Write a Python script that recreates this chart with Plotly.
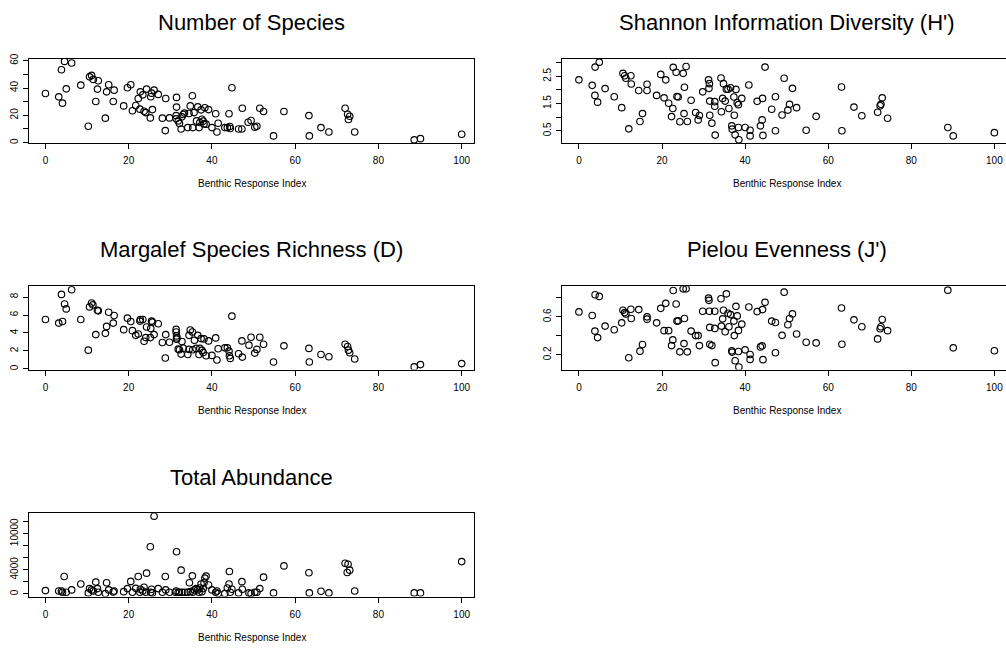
import plotly.graph_objects as go

# ---------------- data ----------------
species_x = [0, 3.2, 3.85, 4.1, 4.6, 5.0, 6.3, 8.5, 10.3, 10.6, 11.1, 11.5, 12.1, 12.5, 12.7, 14.4, 14.7, 15.2,
             16.3, 16.5, 18.8, 19.7, 20.5, 20.9, 21.7, 22.3, 22.7, 22.8, 23.4, 23.7, 24.1, 24.3, 25.2, 25.3, 25.5,
             25.7, 26.1, 27.1, 28.1, 28.8, 28.9, 29.8, 31.4, 31.4, 31.5, 31.5, 31.9, 32.2, 32.6, 32.8, 33.1, 33.4,
             34.2, 34.5, 34.8, 35.3, 35.4, 35.7, 36.3, 36.6, 36.9, 37.1, 37.4, 37.6, 37.9, 38.1, 38.3, 38.6, 39.2,
             40.0, 40.9, 41.2, 41.5, 43.1, 43.7, 44.1, 44.3, 44.4, 44.8, 46.4, 47.2, 47.3, 48.7, 49.4, 50.3, 50.8,
             51.5, 52.4, 54.8, 57.3, 63.3, 63.4, 66.2, 68.1, 72.0, 72.6, 72.8, 73.1, 74.3, 88.6, 90.1, 100]
species_y = [36, 33.5, 53.4, 28.9, 59.5, 39.4, 58.3, 42.1, 12, 48.2, 49.2, 46.3, 30.1, 39.2, 45.3, 17.9, 37.2, 42.4,
             30.1, 38.4, 26.9, 40.2, 42.4, 23.3, 27.2, 32.3, 24.5, 37.2, 35, 23, 22, 39.2, 18.1, 33.6, 36.2,
             24.2, 38.4, 35.3, 17.9, 8.8, 32.3, 18.1, 17.4, 19.8, 26, 33.1, 15.9, 14, 10, 18.9, 20.6, 21.6,
             11, 21.3, 26.9, 34.3, 11, 22, 15.9, 26.2, 11, 14.7, 24, 17.1, 15.7, 13.7, 25.5, 13.5, 24.2,
             11, 21.1, 7.8, 14.2, 11, 11, 21.1, 11.8, 10.3, 40.2, 10, 10, 25.2, 14.9, 16.2, 11.3, 12,
             25.2, 22.8, 4.9, 22.8, 19.8, 4.9, 11, 7.8, 25.2, 20.8, 16.9, 19.3, 7.8, 2, 2.9, 6.1]

shannon_x = [0, 3.2, 3.85, 3.9, 4.5, 4.9, 6.3, 8.5, 10.3, 10.6, 11.0, 11.3, 12.0, 12.5, 12.6, 14.4, 14.7, 15.3,
             16.4, 16.4, 18.7, 19.7, 20.5, 20.9, 21.6, 22.3, 22.6, 22.7, 23.4, 23.6, 23.9, 24.3, 25.1, 25.3, 25.4,
             25.8, 26.1, 27.0, 28.1, 28.7, 29.0, 29.8, 31.2, 31.3, 31.4, 31.5, 31.5, 32.0, 32.7, 32.7, 32.8, 34.2,
             34.3, 34.6, 34.8, 35.2, 35.5, 35.9, 36.1, 36.5, 36.8, 36.9, 37.3, 37.4, 37.6, 37.8, 38.1, 38.4, 38.4,
             38.5, 39.2, 40.0, 40.9, 41.2, 41.2, 42.9, 43.7, 44.1, 44.2, 44.3, 44.8, 46.4, 47.3, 47.3, 48.9, 49.4,
             50.3, 50.7, 51.4, 52.4, 54.7, 57.1, 63.2, 63.3, 66.2, 68.1, 71.9, 72.5, 72.7, 73.0, 74.3, 88.8, 90.1, 100]
shannon_y = [2.37, 2.17, 1.80, 2.84, 1.55, 3.02, 2.05, 1.75, 1.35, 2.61, 2.52, 2.43, 0.57, 2.52, 2.22, 1.98, 0.84, 1.13,
             2.21, 1.98, 1.80, 2.57, 1.71, 2.37, 1.51, 1.02, 1.32, 2.83, 2.65, 1.76, 1.74, 0.83, 2.61, 1.13, 2.10,
             2.86, 0.84, 1.62, 1.17, 0.90, 1.06, 1.93, 2.37, 2.06, 2.23, 1.07, 1.59, 0.78, 1.57, 1.40, 0.34, 2.44,
             1.20, 1.69, 2.23, 1.59, 2.03, 2.03, 1.32, 2.08, 0.68, 0.56, 1.74, 1.07, 0.35, 2.02, 1.53, 1.46, 0.62,
             0.17, 1.69, 0.62, 2.18, 0.52, 0.31, 1.58, 0.68, 0.90, 1.69, 0.33, 2.84, 1.29, 1.75, 0.50, 1.08, 2.43,
             1.26, 1.47, 2.06, 1.35, 0.52, 1.03, 2.11, 0.50, 1.37, 1.05, 1.18, 1.42, 1.47, 1.71, 0.96, 0.62, 0.31, 0.43]

margalef_x = [0, 3.2, 3.85, 4.1, 4.6, 5.0, 6.3, 8.5, 10.3, 10.6, 11.1, 11.4, 12.1, 12.5, 12.7, 14.4, 14.7, 15.2,
              16.3, 16.5, 18.8, 19.7, 20.5, 20.9, 21.7, 22.3, 22.7, 22.8, 23.4, 23.7, 24.1, 24.3, 25.2, 25.3, 25.5,
              25.7, 26.1, 27.1, 28.1, 28.8, 28.9, 29.8, 31.4, 31.4, 31.5, 31.5, 31.6, 31.9, 32.2, 32.6, 32.8, 33.1,
              34.2, 34.5, 34.5, 34.8, 35.3, 35.4, 35.8, 36.2, 36.6, 36.9, 37.1, 37.4, 37.6, 37.9, 38.1, 38.6, 39.2,
              40.0, 40.9, 41.2, 41.5, 43.1, 43.7, 44.1, 44.2, 44.4, 44.8, 46.4, 47.2, 47.3, 48.9, 49.4, 50.3, 50.8,
              51.5, 52.4, 54.8, 57.3, 63.3, 63.4, 66.2, 68.1, 72.0, 72.6, 72.8, 73.1, 74.3, 88.6, 90.1, 100]
margalef_y = [5.50, 5.10, 8.29, 5.28, 7.23, 6.68, 8.81, 5.50, 2.09, 6.90, 7.34, 7.12, 3.82, 6.53, 6.46, 3.96, 4.73, 6.31,
              5.10, 5.94, 4.37, 5.65, 5.28, 4.26, 3.74, 3.89, 5.32, 5.50, 5.50, 3.08, 3.49, 4.66, 3.49, 4.51, 5.32,
              5.21, 3.82, 5.03, 2.94, 1.21, 3.82, 2.97, 4.40, 4.11, 3.67, 3.30, 3.45, 2.20, 2.13, 1.65, 3.05, 2.31,
              1.61, 2.17, 3.74, 4.33, 4.11, 2.13, 3.19, 2.28, 3.74, 1.61, 2.28, 3.38, 2.06, 1.83, 3.34, 1.47, 3.12,
              1.50, 3.45, 0.99, 2.24, 2.35, 2.35, 1.98, 1.47, 1.17, 5.87, 1.69, 3.12, 1.32, 2.64, 3.52, 1.76, 2.17,
              3.52, 2.75, 0.77, 2.57, 2.28, 0.77, 1.61, 1.36, 2.75, 2.50, 2.09, 1.80, 1.10, 0.22, 0.48, 0.59]

pielou_x = shannon_x
pielou_y = [0.652, 0.614, 0.450, 0.833, 0.381, 0.816, 0.503, 0.464, 0.537, 0.670, 0.645, 0.631, 0.169, 0.680, 0.583,
            0.677, 0.238, 0.308, 0.600, 0.576, 0.537, 0.690, 0.454, 0.743, 0.454, 0.297, 0.357, 0.878, 0.736, 0.555,
            0.558, 0.231, 0.896, 0.318, 0.583, 0.896, 0.231, 0.450, 0.402, 0.402, 0.297, 0.659, 0.798, 0.774, 0.659,
            0.311, 0.489, 0.297, 0.659, 0.478, 0.117, 0.791, 0.503, 0.579, 0.670, 0.443, 0.843, 0.638, 0.496, 0.624,
            0.242, 0.228, 0.555, 0.402, 0.137, 0.711, 0.610, 0.457, 0.235, 0.071, 0.523, 0.252, 0.704, 0.203, 0.151,
            0.656, 0.283, 0.294, 0.677, 0.148, 0.753, 0.555, 0.541, 0.221, 0.405, 0.861, 0.517, 0.583, 0.631, 0.419,
            0.332, 0.325, 0.694, 0.311, 0.569, 0.496, 0.367, 0.475, 0.496, 0.572, 0.454, 0.882, 0.273, 0.242]

abund_x = [0, 3.2, 3.85, 4.1, 4.5, 5.0, 6.3, 8.5, 10.3, 10.6, 11.1, 11.5, 12.1, 12.5, 12.7, 14.4, 14.7, 15.2, 16.3,
           16.5, 18.8, 19.7, 20.5, 20.9, 21.7, 22.3, 22.7, 22.8, 23.4, 23.7, 24.1, 24.3, 25.2, 25.3, 25.5, 25.7,
           26.1, 27.1, 28.1, 28.8, 28.9, 29.8, 31.2, 31.4, 31.5, 31.9, 32.2, 32.6, 32.8, 33.5, 34.2, 34.6, 34.8,
           35.3, 35.4, 35.8, 36.2, 36.6, 36.9, 37.1, 37.4, 37.6, 37.9, 38.1, 38.3, 38.6, 39.2, 40.0, 40.9, 41.2,
           41.5, 43.1, 43.7, 44.1, 44.2, 44.4, 44.8, 46.4, 47.2, 47.3, 48.9, 49.4, 50.3, 50.8, 51.5, 52.4, 54.8,
           57.3, 63.3, 63.4, 66.2, 68.1, 72.0, 72.7, 72.5, 73.1, 74.3, 88.6, 90.1, 100]
abund_y = [548, 490, 490, 270, 2900, 270, 660, 1640, 160, 880, 660, 490, 1970, 880, 270, 55, 1860, 660, 330,
           490, 380, 880, 2080, 270, 930, 2900, 270, 770, 490, 1100, 270, 3450, 7840, 270, 770, 160,
           12930, 880, 270, 2900, 660, 270, 270, 490, 7010, 270, 270, 3950, 270, 270, 270, 1860, 380,
           3010, 270, 660, 880, 660, 270, 990, 1640, 380, 880, 1860, 2630, 2960, 1480, 660, 270, 490,
           55, 55, 990, 1640, 3730, 270, 770, 160, 2030, 770, 160, 55, 270, 270, 880, 2790, 160,
           4660, 3510, 160, 440, 160, 5100, 4930, 3560, 3950, 490, 160, 160, 5370]

titles = ["Number of Species", "Shannon Information Diversity (H')", "Margalef Species Richness (D)",
          "Pielou Evenness (J')", "Total Abundance"]
x_label = "Benthic Response Index"
x_ticks = [0, 20, 40, 60, 80, 100]

y_ticks = [
    ([0, 10, 20, 30, 40, 50, 60], ["0", "", "20", "", "40", "", "60"]),
    ([0.5, 1.0, 1.5, 2.0, 2.5, 3.0], ["0.5", "", "1.5", "", "2.5", ""]),
    ([0, 2, 4, 6, 8], ["0", "2", "4", "6", "8"]),
    ([0.2, 0.4, 0.6, 0.8], ["0.2", "", "0.6", ""]),
    ([0, 2000, 4000, 6000, 8000, 10000, 12000], ["0", "", "4000", "", "", "10000", ""]),
]
y_ranges = [[-0.3, 61.3], [0.05, 3.14], [-0.07, 9.2], [0.044, 0.923], [-444, 13420]]

series = [(species_x, species_y), (shannon_x, shannon_y), (margalef_x, margalef_y),
          (pielou_x, pielou_y), (abund_x, abund_y)]

# ---------------- layout geometry (pixels) ----------------
W, H = 1006, 651
left_col = (29.4, 474.0)
right_col = (562.3, 1006.0)
rows = [(53.5, 138.5), (283.3, 367.5), (512.7, 597.0)]
x_ranges = {"L": [-3.85, 102.96], "R": [-4.0, 102.8]}

FONT = "Liberation Sans, Arial, Helvetica, sans-serif"

fig = go.Figure()
layout = dict(
    width=W, height=H, margin=dict(l=0, r=0, t=0, b=0),
    paper_bgcolor="white", plot_bgcolor="white", showlegend=False,
    font=dict(family=FONT, color="black", size=10),
    annotations=[],
)

positions = [("L", 0), ("R", 0), ("L", 1), ("R", 1), ("L", 2)]
for i, ((col, r), (xs, ys)) in enumerate(zip(positions, series)):
    n = i + 1
    xa = "x" if n == 1 else f"x{n}"
    ya = "y" if n == 1 else f"y{n}"
    cx = left_col if col == "L" else right_col
    top, bot = rows[r]
    fig.add_trace(go.Scatter(
        x=xs, y=ys, mode="markers", xaxis=xa, yaxis=ya,
        marker=dict(symbol="circle-open", size=6.5, color="black", line=dict(width=1.15, color="black")),
        hoverinfo="x+y",
    ))
    layout[f"xaxis{'' if n == 1 else n}"] = dict(
        domain=[cx[0] / W, cx[1] / W], range=x_ranges[col], anchor=ya,
        showgrid=False, zeroline=False, showline=True, linecolor="black", linewidth=1,
        mirror=True, ticks="outside", ticklen=5, tickwidth=1, tickcolor="black",
        tickvals=x_ticks, ticktext=[str(t) for t in x_ticks],
        tickfont=dict(size=10, color="black", family=FONT), ticklabelstandoff=3,
    )
    yv, yt = y_ticks[i]
    layout[f"yaxis{'' if n == 1 else n}"] = dict(
        domain=[1 - bot / H, 1 - top / H], range=y_ranges[i], anchor=xa,
        showgrid=False, zeroline=False, showline=True, linecolor="black", linewidth=1,
        mirror=(col == "L"), ticks="outside", ticklen=5, tickwidth=1, tickcolor="black",
        tickvals=yv, ticktext=yt, tickangle=-90,
        tickfont=dict(size=10, color="black", family=FONT), ticklabelstandoff=1,
    )
    # panel title
    layout["annotations"].append(dict(
        text=titles[i], xref="paper", yref="paper",
        x=((cx[0] + (cx[1] if col == "L" else 1011)) / 2) / W,
        y=1 - (17 + 229.6 * r) / H, xanchor="center", yanchor="middle",
        showarrow=False, font=dict(size=22, family=FONT, color="black"),
    ))
    # x-axis label
    layout["annotations"].append(dict(
        text=x_label, xref="paper", yref="paper",
        x=((cx[0] + (cx[1] if col == "L" else 1011)) / 2) / W,
        y=1 - (179.0 + 229.6 * r) / H, xanchor="center", yanchor="middle",
        showarrow=False, font=dict(size=10, family=FONT, color="black"),
    ))

fig.update_layout(**layout)
fig.write_html("out.html")
